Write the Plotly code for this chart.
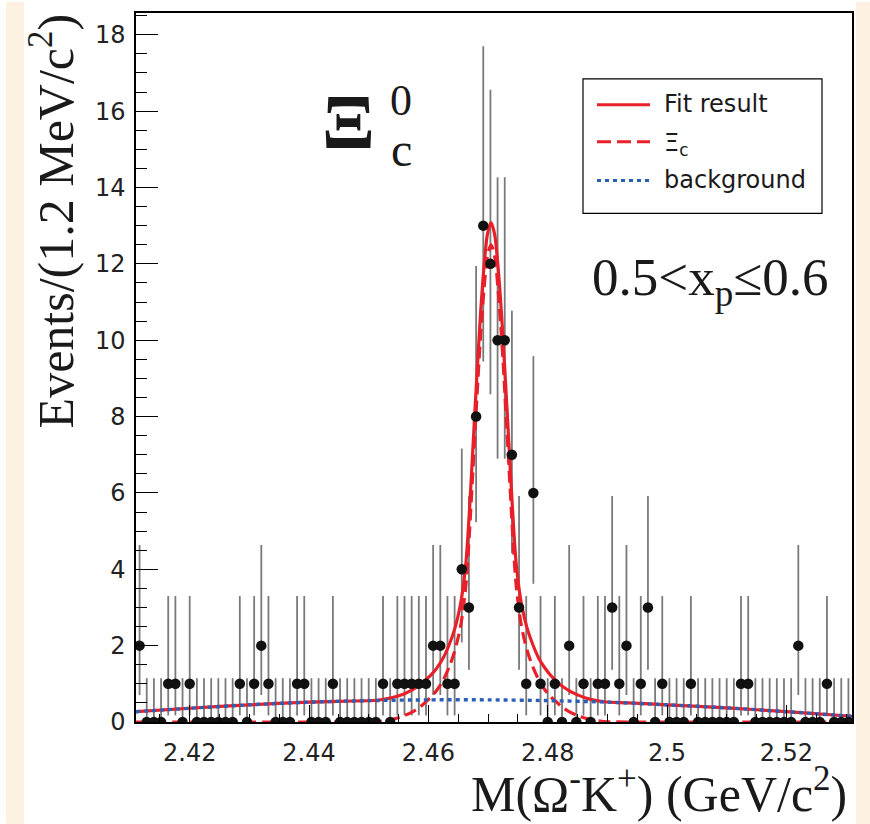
import plotly.graph_objects as go

# ---------------- data ----------------
bin_lo = 2.411
bin_width = 0.0012
counts = [2, 0, 0, 0, 1, 1, 0, 1, 0, 0,
          0, 0, 0, 0, 1, 0, 1, 2, 1, 0,
          0, 0, 1, 1, 0, 0, 0, 1, 0, 0,
          0, 0, 0, 0, 1, 0, 1, 1, 1, 1,
          1, 2, 2, 1, 1, 4, 3, 8, 13, 12,
          10, 10, 7, 3, 1, 6, 1, 0, 1, 0,
          2, 0, 1, 0, 1, 1, 3, 1, 2, 0,
          1, 3, 0, 1, 0, 0, 0, 1, 0, 0,
          0, 0, 0, 0, 1, 1, 0, 0, 0, 0,
          0, 0, 2, 0, 0, 0, 1, 0, 0, 0]

# Poisson (68%) error lengths per count, as drawn
poisson_lo = {0: 0.0, 1: 0.827, 2: 1.292, 3: 1.633, 4: 1.914, 6: 2.379,
              7: 2.581, 8: 2.768, 10: 3.108, 12: 3.415, 13: 3.558}
poisson_hi = {0: 1.148, 1: 2.299, 2: 2.637, 3: 2.918, 4: 3.162, 6: 3.583,
              7: 3.770, 8: 3.945, 10: 4.266, 12: 4.559, 13: 4.697}

bkg_x = [2.411, 2.42, 2.43, 2.44, 2.45, 2.46, 2.47, 2.48, 2.49, 2.50, 2.51, 2.52, 2.531]
bkg_y = [0.27, 0.36, 0.45, 0.52, 0.56, 0.58, 0.58, 0.56, 0.52, 0.45, 0.37, 0.27, 0.15]

sig_x = [2.411, 2.4475, 2.4515, 2.454, 2.456, 2.4575, 2.4585, 2.4595, 2.4605, 2.4615,
         2.4625, 2.4635, 2.4643, 2.4649, 2.4655, 2.4663, 2.4669, 2.4675, 2.4681, 2.4687,
         2.4693, 2.4699, 2.4705, 2.4711, 2.4717, 2.4723, 2.4729, 2.4735, 2.4741, 2.4747,
         2.4755, 2.4761, 2.4767, 2.4775, 2.4785, 2.4795, 2.4805, 2.4815, 2.4825, 2.4835,
         2.485, 2.487, 2.4895, 2.4935, 2.531]
sig_y = [0, 0, 0.01, 0.07, 0.17, 0.28, 0.38, 0.52, 0.66, 0.85,
         1.10, 1.45, 1.80, 2.15, 2.6, 3.6, 5.0, 6.7, 8.4, 10.0,
         11.3, 12.2, 12.5, 12.2, 11.3, 10.0, 8.4, 6.7, 5.0, 3.6,
         2.6, 2.15, 1.80, 1.45, 1.10, 0.85, 0.66, 0.52, 0.38, 0.28,
         0.17, 0.07, 0.01, 0, 0]

fit_x = [2.411, 2.42, 2.43, 2.44,
         2.4475, 2.4515, 2.454, 2.456, 2.4575, 2.4585, 2.4595, 2.4605, 2.4615,
         2.4625, 2.4635, 2.4643, 2.4649, 2.4655, 2.4663, 2.4669, 2.4675, 2.4681, 2.4687,
         2.4693, 2.4699, 2.4705, 2.4711, 2.4717, 2.4723, 2.4729, 2.4735, 2.4741, 2.4747,
         2.4755, 2.4761, 2.4767, 2.4775, 2.4785, 2.4795, 2.4805, 2.4815, 2.4825, 2.4835,
         2.485, 2.487, 2.4895, 2.4935,
         2.50, 2.51, 2.52, 2.531]
fit_y = [0.27, 0.36, 0.45, 0.52,
         0.55, 0.57, 0.64, 0.74, 0.86, 0.96, 1.10, 1.24, 1.43,
         1.68, 2.03, 2.38, 2.73, 3.18, 4.18, 5.58, 7.28, 8.98, 10.58,
         11.88, 12.78, 13.08, 12.78, 11.88, 10.58, 8.98, 7.28, 5.58, 4.18,
         3.18, 2.73, 2.38, 2.03, 1.67, 1.42, 1.22, 1.07, 0.93, 0.83,
         0.71, 0.60, 0.53, 0.50,
         0.45, 0.37, 0.27, 0.15]

x_tickvals = [2.42, 2.44, 2.46, 2.48, 2.50, 2.52]
x_ticktext = ["2.42", "2.44", "2.46", "2.48", "2.5", "2.52"]
y_tickvals = [0, 2, 4, 6, 8, 10, 12, 14, 16, 18]
y_ticktext = ["0", "2", "4", "6", "8", "10", "12", "14", "16", "18"]

# ---------------- figure ----------------
centers = [bin_lo + (i + 0.5) * bin_width for i in range(len(counts))]
err_lo = [poisson_lo[c] for c in counts]
err_hi = [poisson_hi[c] for c in counts]

W, H = 870, 824
L, R, T, B = 136, 18, 11, 102
PW, PH = W - L - R, H - T - B


def px(x):
    return (x - L) / PW


def py(y):
    return (H - B - y) / PH


fig = go.Figure()

fig.add_trace(go.Scatter(
    x=centers, y=counts, mode="markers",
    marker=dict(size=10, color="rgba(0,0,0,0)"),
    error_y=dict(type="data", symmetric=False, array=err_hi, arrayminus=err_lo,
                 color="#7a7a7a", thickness=1.8, width=0),
    hoverinfo="skip"))

fig.add_trace(go.Scatter(x=fit_x, y=fit_y, mode="lines",
                         line=dict(color="#e8202a", width=3.2, shape="spline", smoothing=0.8)))
fig.add_trace(go.Scatter(x=sig_x, y=sig_y, mode="lines",
                         line=dict(color="#e8202a", width=3.2, dash="12px,6px",
                                   shape="spline", smoothing=0.8)))
fig.add_trace(go.Scatter(x=bkg_x, y=bkg_y, mode="lines",
                         line=dict(color="#2b5fb4", width=3.4, dash="4px,4px",
                                   shape="spline", smoothing=0.8)))

fig.add_trace(go.Scatter(x=centers, y=counts, mode="markers",
                         marker=dict(size=10.5, color="#111111")))

serif = "Liberation Serif"
sans = "DejaVu Sans"

fig.update_layout(
    width=W, height=H,
    margin=dict(l=L, r=R, t=T, b=B),
    paper_bgcolor="white", plot_bgcolor="white",
    showlegend=False,
    xaxis=dict(range=[2.411, 2.531], tickmode="array", tickvals=x_tickvals, ticktext=x_ticktext,
               ticks="inside", ticklen=17, tickwidth=1.3, tickcolor="black",
               minor=dict(tickmode="linear", tick0=2.41, dtick=0.005, ticks="inside",
                          ticklen=8, tickwidth=1.1, tickcolor="black"),
               showline=True, linecolor="black", linewidth=1.5, mirror=True,
               showgrid=False, zeroline=False,
               tickfont=dict(family=sans, size=24, color="#222"), ticklabelstandoff=8),
    yaxis=dict(range=[0, 18.57], tickmode="array", tickvals=y_tickvals, ticktext=y_ticktext,
               ticks="inside", ticklen=22, tickwidth=1.3, tickcolor="black",
               minor=dict(tickmode="linear", tick0=0, dtick=0.5, ticks="inside",
                          ticklen=11, tickwidth=1.1, tickcolor="black"),
               showline=True, linecolor="black", linewidth=1.5, mirror=True,
               showgrid=False, zeroline=False,
               tickfont=dict(family=sans, size=24, color="#222"), ticklabelstandoff=4),
)

shapes = []
beige = "#fdf2e1"
shapes.append(dict(type="rect", xref="paper", yref="paper", x0=px(6), x1=px(24),
                   y0=py(0), y1=py(H), fillcolor=beige, line=dict(width=0), layer="below"))
shapes.append(dict(type="rect", xref="paper", yref="paper", x0=px(856), x1=px(W),
                   y0=py(0), y1=py(H), fillcolor=beige, line=dict(width=0), layer="below"))
# legend box
shapes.append(dict(type="rect", xref="paper", yref="paper", x0=px(583), x1=px(822),
                   y0=py(77), y1=py(212), fillcolor="white", line=dict(color="black", width=1.2)))
shapes.append(dict(type="line", xref="paper", yref="paper", x0=px(597), x1=px(650),
                   y0=py(103), y1=py(103), line=dict(color="#e8202a", width=3)))
shapes.append(dict(type="line", xref="paper", yref="paper", x0=px(597), x1=px(650),
                   y0=py(140), y1=py(140), line=dict(color="#e8202a", width=3, dash="14px,6px")))
shapes.append(dict(type="line", xref="paper", yref="paper", x0=px(597), x1=px(650),
                   y0=py(179), y1=py(179), line=dict(color="#2b5fb4", width=3, dash="4px,4px")))
fig.update_layout(shapes=shapes)

ann = []


def add_text(text, x, y, size, family, xanchor="left", yanchor="middle", angle=0, bold=False):
    ann.append(dict(text=("<b>%s</b>" % text) if bold else text, x=px(x), y=py(y),
                    xref="paper", yref="paper", showarrow=False,
                    xanchor=xanchor, yanchor=yanchor, textangle=angle,
                    font=dict(family=family, size=size, color="#1a1a1a")))


add_text("Fit result", 662, 102, 24, sans)
add_text("Ξ<sub>c</sub>", 662, 143, 24, sans)
add_text("background", 662, 178, 24, sans)
add_text("Events/(1.2 MeV/c<sup>2</sup>)", 52, 220, 50, serif, xanchor="center", angle=-90)
add_text("M(Ω<sup>-</sup>K<sup>+</sup>) (GeV/c<sup>2</sup>)", 849, 791, 50, serif, xanchor="right")
add_text("Ξ", 348, 120, 78, serif, xanchor="center", bold=True)
add_text("0", 401, 99, 44, serif, xanchor="center")
add_text("c", 401, 148, 48, serif, xanchor="center")
add_text("0.5&lt;x<sub>p</sub>≤0.6", 590, 280, 53, serif)
fig.update_layout(annotations=ann)

fig.write_html("out.html")
